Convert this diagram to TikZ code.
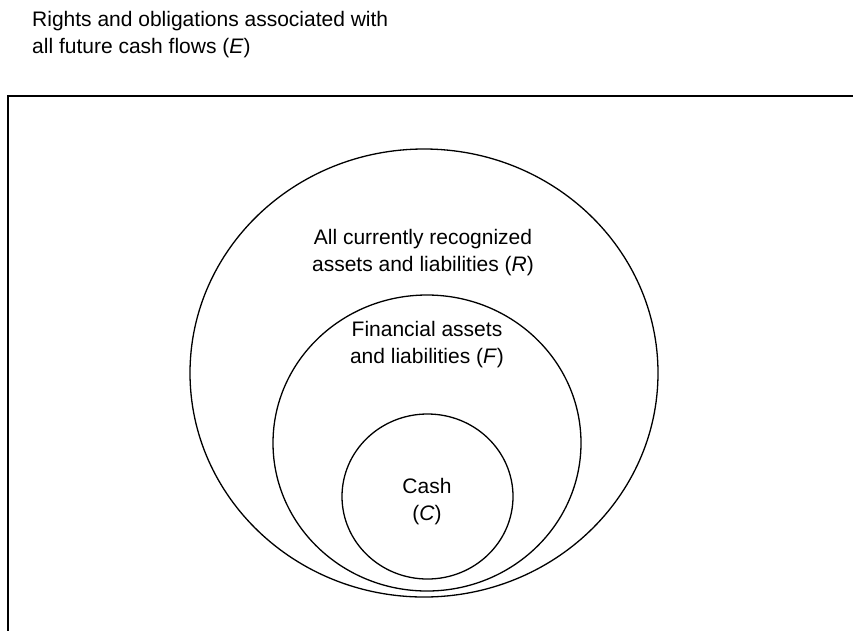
\documentclass[tikz,border=0pt]{standalone}
\usepackage{fontspec}
\setmainfont{Liberation Sans}
\tikzset{
  lbl/.style={font=\fontsize{21}{26.7}\selectfont, align=center, inner sep=0pt, anchor=base},
  setline/.style={line width=1.3pt},
}
\begin{document}
\begin{tikzpicture}[x=1pt,y=-1pt]
  \useasboundingbox (0,0) rectangle (853,630);
  \clip (0,0) rectangle (853,630);
  % universe E
  \draw[line width=1.7pt] (8,96) rectangle (900,700);
  \node[lbl, align=left, anchor=base west] (E) at (32,53.5)
    {Rights and obligations associated with\\all future cash flows (\textit{E})};
  % nested sets R, F, C
  \draw[setline] (424,373) ellipse [x radius=234, y radius=224];
  \draw[setline] (427,443) ellipse [x radius=154, y radius=148];
  \draw[setline] (427.5,496.5) ellipse [x radius=85.5, y radius=82.5];
  \node[lbl] (R) at (423,271.5) {All currently recognized\\assets and liabilities (\textit{R})};
  \node[lbl] (F) at (427,363) {Financial assets\\and liabilities (\textit{F})};
  \node[lbl] (C) at (427,520) {Cash\\(\textit{C})};
\end{tikzpicture}
\end{document}
